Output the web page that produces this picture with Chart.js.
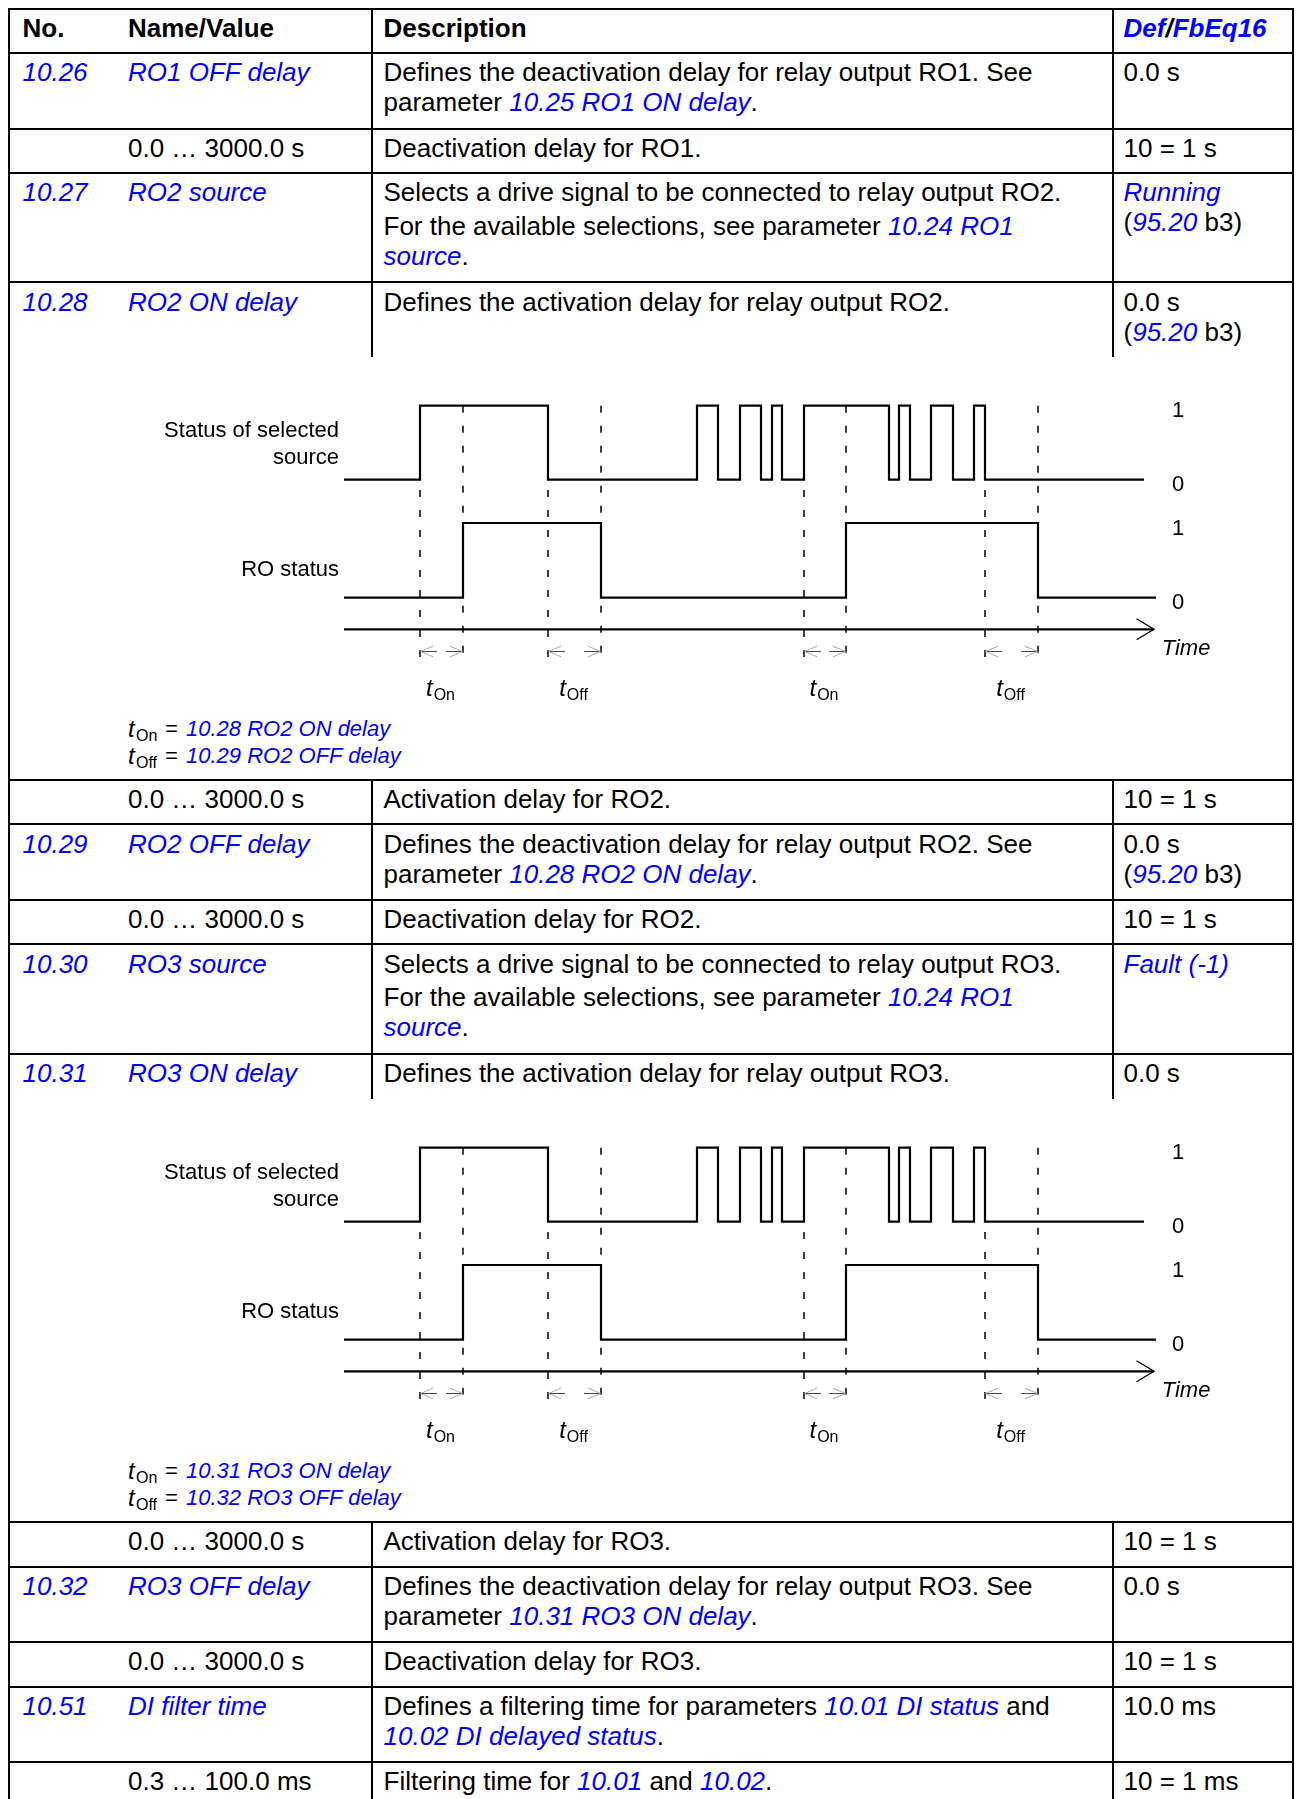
<!DOCTYPE html>
<html><head><meta charset="utf-8">
<script src="https://cdn.jsdelivr.net/npm/chart.js@4.4.1/dist/chart.umd.min.js"></script>
<style>
html,body{margin:0;padding:0;background:#fff;}
#page{position:relative;width:1296px;height:1799px;overflow:hidden;font-family:'Liberation Sans',Arial,sans-serif;color:#000;}
.t{position:absolute;white-space:nowrap;line-height:1;}
.hl{position:absolute;background:#000;height:2px;}
.vl{position:absolute;background:#000;width:2px;}
.b{color:#0000ff;font-style:italic;}
canvas.cv{position:absolute;}
</style></head><body><div id="page"></div>
<script>
// ---------- chart data (time in diagram units) ----------
const sourceTimes  = [0, 7.6, 20.4, 35.3, 37.4, 39.6, 41.7, 42.8, 43.8, 46.0, 54.5, 55.5, 56.6, 58.7, 60.9, 63.0, 64.1, 80.0];
const sourceStates = [0, 1,   0,    1,    0,    1,    0,    1,    0,    1,    0,    1,    0,    1,    0,    1,    0,    0];
const roTimes      = [0, 11.9, 25.7, 50.2, 69.4, 81.2];
const roStates     = [0, 1,    0,    1,    0,    0];
const delayStart   = [7.6, 20.4, 46.0, 64.1];
const delayEnd     = [11.9, 25.7, 50.2, 69.4];
const delayLabels  = ['On', 'Off', 'On', 'Off'];
const stateTicks   = [0, 1];
const timeAxisEnd  = 81.0;
const timeLabel    = 'Time';

// ---------- page helpers ----------
const page = document.getElementById('page');
function txt(x, base, html, size, o) {
  o = o || {};
  const d = document.createElement('div');
  d.className = 't';
  d.style.fontSize = size + 'px';
  d.style.top = (base - 0.8465 * size) + 'px';
  if (o.right) { d.style.right = (1296 - x) + 'px'; d.style.textAlign = 'right'; }
  else d.style.left = x + 'px';
  if (o.bold) d.style.fontWeight = 'bold';
  if (o.italic) d.style.fontStyle = 'italic';
  if (o.color) d.style.color = o.color;
  d.innerHTML = html;
  page.appendChild(d);
}
function hl(y) { const d = document.createElement('div'); d.className = 'hl'; d.style.left = '8px'; d.style.width = '1286.3px'; d.style.top = (y - 1) + 'px'; page.appendChild(d); }
function vl(x, y1, y2) { const d = document.createElement('div'); d.className = 'vl'; d.style.left = x + 'px'; d.style.top = y1 + 'px'; d.style.height = (y2 - y1) + 'px'; page.appendChild(d); }
const L = s => '<span class="b">' + s + '</span>';

// ---------- table grid ----------
[8.5, 52.7, 128.7, 172.7, 282.3, 780, 824.3, 900, 944.3, 1053.7, 1521.7, 1566.7, 1642, 1686.7, 1761.7].forEach(hl);
vl(8, 7.5, 1799); vl(1292.3, 7.5, 1799);
[[7.5, 357.3], [779, 1098.7], [1520.7, 1799]].forEach(([a, b]) => { vl(371, a, b); vl(1112, a, b); });

// ---------- table text ----------
const C1 = 22.5, C2 = 128, C3 = 383.5, C4 = 1123.5, F = 26;
txt(C1, 37, 'No.', F, {bold: true});
txt(C2, 37, 'Name/Value', F, {bold: true});
txt(C3, 37, 'Description', F, {bold: true});
txt(C4, 37, '<span style="color:#0000ff">Def</span>/<span style="color:#0000ff">FbEq16</span>', F, {bold: true, italic: true});

function row(base, no, name, desc, def, descBases) {
  if (no) txt(C1, base, L(no), F);
  if (name) txt(C2, base, name, F);
  desc.forEach((d, i) => txt(C3, descBases ? descBases[i] : base + 30 * i, d, F));
  def.forEach((d, i) => txt(C4, base + 30 * i, d, F));
}
row(81.2, '10.26', L('RO1 OFF delay'), ['Defines the deactivation delay for relay output RO1. See', 'parameter ' + L('10.25 RO1 ON delay') + '.'], ['0.0 s']);
row(157.2, '', '0.0 … 3000.0 s', ['Deactivation delay for RO1.'], ['10 = 1 s']);
row(201.2, '10.27', L('RO2 source'), ['Selects a drive signal to be connected to relay output RO2.', 'For the available selections, see parameter ' + L('10.24 RO1'), L('source') + '.'], [L('Running'), '(' + L('95.20') + ' b3)'], [201.2, 235, 265]);
row(310.8, '10.28', L('RO2 ON delay'), ['Defines the activation delay for relay output RO2.'], ['0.0 s', '(' + L('95.20') + ' b3)']);
row(808.5, '', '0.0 … 3000.0 s', ['Activation delay for RO2.'], ['10 = 1 s']);
row(852.8, '10.29', L('RO2 OFF delay'), ['Defines the deactivation delay for relay output RO2. See', 'parameter ' + L('10.28 RO2 ON delay') + '.'], ['0.0 s', '(' + L('95.20') + ' b3)']);
row(928.5, '', '0.0 … 3000.0 s', ['Deactivation delay for RO2.'], ['10 = 1 s']);
row(972.8, '10.30', L('RO3 source'), ['Selects a drive signal to be connected to relay output RO3.', 'For the available selections, see parameter ' + L('10.24 RO1'), L('source') + '.'], [L('Fault (-1)')], [972.8, 1006.5, 1036.5]);
row(1082.2, '10.31', L('RO3 ON delay'), ['Defines the activation delay for relay output RO3.'], ['0.0 s']);
row(1550.2, '', '0.0 … 3000.0 s', ['Activation delay for RO3.'], ['10 = 1 s']);
row(1595.2, '10.32', L('RO3 OFF delay'), ['Defines the deactivation delay for relay output RO3. See', 'parameter ' + L('10.31 RO3 ON delay') + '.'], ['0.0 s']);
row(1670.5, '', '0.0 … 3000.0 s', ['Deactivation delay for RO3.'], ['10 = 1 s']);
row(1715.2, '10.51', L('DI filter time'), ['Defines a filtering time for parameters ' + L('10.01 DI status') + ' and', L('10.02 DI delayed status') + '.'], ['10.0 ms']);
row(1790.2, '', '0.3 … 100.0 ms', ['Filtering time for ' + L('10.01') + ' and ' + L('10.02') + '.'], ['10 = 1 ms']);

// ---------- diagrams ----------
Chart.defaults.font.family = "'Liberation Sans', Arial, sans-serif";
// vertical layout constants (in RO-status scale units)
const Y = {markTop: 2.570, markMid: 1.442, markBottom: -0.861, axis: -0.423, arrow: -0.720};

const annot = {
  id: 'annot',
  afterDatasetsDraw(chart) {
    const ctx = chart.ctx, xs = chart.scales.x, ys = chart.scales.yRO;
    const ya = ys.getPixelForValue(Y.axis);
    const x0 = xs.getPixelForValue(0), x1 = xs.getPixelForValue(timeAxisEnd);
    ctx.save();
    ctx.strokeStyle = '#000'; ctx.lineWidth = 2.3; ctx.lineCap = 'butt';
    ctx.beginPath(); ctx.moveTo(x0, ya); ctx.lineTo(x1, ya); ctx.stroke();
    ctx.lineWidth = 1.3;
    ctx.beginPath(); ctx.moveTo(x1 - 17.5, ya - 10.5); ctx.lineTo(x1, ya); ctx.lineTo(x1 - 17.5, ya + 10.5); ctx.stroke();
    ctx.fillStyle = '#000'; ctx.textBaseline = 'alphabetic'; ctx.textAlign = 'left';
    ctx.font = "italic 22px 'Liberation Sans', Arial, sans-serif";
    ctx.fillText(timeLabel, x1 + 7.7, ya + 25.7);
    const yr = ys.getPixelForValue(Y.arrow);
    delayStart.forEach((s, i) => {
      const a = xs.getPixelForValue(s), b = xs.getPixelForValue(delayEnd[i]);
      ctx.strokeStyle = '#444'; ctx.lineWidth = 1;
      ctx.beginPath(); ctx.moveTo(a, yr); ctx.lineTo(a + 17, yr); ctx.moveTo(b - 17, yr); ctx.lineTo(b, yr); ctx.stroke();
      ctx.strokeStyle = '#aaa'; ctx.lineWidth = 1;
      ctx.beginPath();
      ctx.moveTo(a + 13, yr - 5.3); ctx.lineTo(a + 0.5, yr); ctx.lineTo(a + 13, yr + 5.3);
      ctx.moveTo(b - 13, yr - 5.3); ctx.lineTo(b - 0.5, yr); ctx.lineTo(b - 13, yr + 5.3);
      ctx.stroke();
      const mid = (a + b) / 2 - 1;
      ctx.font = "italic 24px 'Liberation Sans', Arial, sans-serif";
      const tw = ctx.measureText('t').width;
      ctx.font = "16px 'Liberation Sans', Arial, sans-serif";
      const sw = ctx.measureText(delayLabels[i]).width;
      const start = mid - (tw + 1 + sw) / 2;
      ctx.fillStyle = '#000';
      ctx.font = "italic 24px 'Liberation Sans', Arial, sans-serif";
      ctx.fillText('t', start, yr + 45);
      ctx.font = "16px 'Liberation Sans', Arial, sans-serif";
      ctx.fillText(delayLabels[i], start + tw + 1, yr + 48.5);
    });
    ctx.restore();
  }
};

function stateAxis(min, max) {
  return {
    type: 'linear', position: 'right', min: min, max: max,
    grid: {display: false, drawTicks: false}, border: {display: false},
    // mirrored labels are not clipped to the (zero-width) axis box
    ticks: {color: '#000', font: {size: 22, family: "'Liberation Sans', Arial, sans-serif"}, mirror: true, crossAlign: 'near', padding: 28.3, labelOffset: 5.5},
    afterBuildTicks: s => { s.ticks = stateTicks.map(v => ({value: v})); },
    afterFit: s => { s.width = 0; s.paddingTop = 0; s.paddingBottom = 0; }
  };
}
function markerData(times, from, to) {
  const out = [];
  times.forEach(t => { out.push({x: t, y: from}, {x: t, y: to}, {x: t, y: null}); });
  return out;
}

function makeDiagram(off, onText, offText) {
  const cv = document.createElement('canvas');
  cv.className = 'cv'; cv.width = 960; cv.height = 345;
  cv.style.left = '300px'; cv.style.top = (370 + off) + 'px';
  page.appendChild(cv);
  new Chart(cv.getContext('2d'), {
    type: 'line',
    data: {
      datasets: [
        {label: 'Status of selected source', data: sourceTimes.map((t, i) => ({x: t, y: sourceStates[i]})), yAxisID: 'yTop', stepped: true, borderColor: '#000', borderWidth: 2.2, pointRadius: 0, fill: false},
        {label: 'RO status', data: roTimes.map((t, i) => ({x: t, y: roStates[i]})), yAxisID: 'yRO', stepped: true, borderColor: '#000', borderWidth: 2.2, pointRadius: 0, fill: false},
        {label: 'delay end', data: markerData(delayEnd, Y.markTop, Y.markBottom), yAxisID: 'yRO', borderColor: '#000', borderWidth: 1.5, borderDash: [7, 13], pointRadius: 0, spanGaps: false, fill: false},
        {label: 'delay start', data: markerData(delayStart, Y.markMid, Y.markBottom), yAxisID: 'yRO', borderColor: '#000', borderWidth: 1.5, borderDash: [7, 13], pointRadius: 0, spanGaps: false, fill: false}
      ]
    },
    options: {
      responsive: false, animation: false, devicePixelRatio: 1,
      layout: {padding: {left: 44, right: 104, top: 30, bottom: 45}},
      plugins: {legend: {display: false}, tooltip: {enabled: false}},
      events: [],
      scales: {
        x: {type: 'linear', min: 0, max: 81.2, display: false},
        yTop: stateAxis(-2.5716, 1.0770),
        yRO: stateAxis(-0.9679, 2.6466)
      }
    },
    plugins: [annot]
  });
  txt(339, 438 + off, 'Status of selected', 22, {right: true});
  txt(339, 464.7 + off, 'source', 22, {right: true});
  txt(339, 576.3 + off, 'RO status', 22, {right: true});
  txt(128, 737 + off, 't', 24, {italic: true});
  txt(136, 742 + off, 'On', 16);
  txt(165, 737 + off, '=', 22);
  txt(186, 737 + off, L(onText), 22);
  txt(128, 764 + off, 't', 24, {italic: true});
  txt(136, 769 + off, 'Off', 16);
  txt(165, 764 + off, '=', 22);
  txt(186, 764 + off, L(offText), 22);
}
makeDiagram(0, '10.28 RO2 ON delay', '10.29 RO2 OFF delay');
makeDiagram(742, '10.31 RO3 ON delay', '10.32 RO3 OFF delay');
</script></body></html>
